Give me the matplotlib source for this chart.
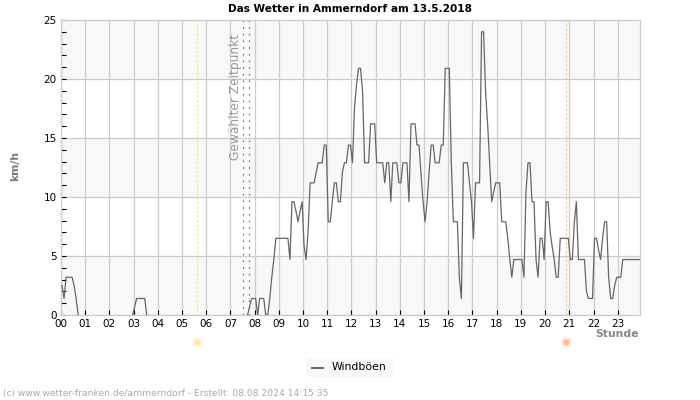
import matplotlib
matplotlib.use("Agg")
import matplotlib.pyplot as plt
from matplotlib.ticker import MultipleLocator
import numpy as np

# Windboeen in km/h, 12 values per hour (5 minute steps)
h00 = [2.5, 1.4, 3.2, 3.2, 3.2, 3.2, 2.5, 1.4, 0, 0, 0, 0]
h01 = [0, 0, 0, 0, 0, 0, 0, 0, 0, 0, 0, 0]
h02 = [0, 0, 0, 0, 0, 0, 0, 0, 0, 0, 0, 0]
h03 = [0.7, 1.4, 1.4, 1.4, 1.4, 1.4, 0, 0, 0, 0, 0, 0]
h04 = [0, 0, 0, 0, 0, 0, 0, 0, 0, 0, 0, 0]
h05 = [0, 0, 0, 0, 0, 0, 0, 0, 0, 0, 0, 0]
h06 = [0, 0, 0, 0, 0, 0, 0, 0, 0, 0, 0, 0]
h07 = [0, 0, 0, 0, 0, 0, 0, 0, 0, 0.7, 1.4, 1.4]
h08 = [1.4, 0, 1.4, 1.4, 1.4, 0, 0, 1.4, 3.2, 4.7, 6.5, 6.5]
h09 = [6.5, 6.5, 6.5, 6.5, 6.5, 4.7, 9.6, 9.6, 8.8, 7.9, 8.8, 9.6]
h10 = [5.9, 4.7, 7.1, 11.2, 11.2, 11.2, 12.1, 12.9, 12.9, 12.9, 14.4, 14.4]
h11 = [7.9, 7.9, 9.6, 11.2, 11.2, 9.6, 9.6, 12.1, 12.9, 12.9, 14.4, 14.4]
h12 = [12.9, 17.6, 19.5, 20.9, 20.9, 19.0, 12.9, 12.9, 12.9, 16.2, 16.2, 16.2]
h13 = [12.9, 12.9, 12.9, 12.9, 11.2, 12.9, 12.9, 9.6, 12.9, 12.9, 12.9, 11.2]
h14 = [11.2, 12.9, 12.9, 12.9, 9.6, 16.2, 16.2, 16.2, 14.4, 14.4, 11.9, 9.6]
h15 = [7.9, 9.6, 12.1, 14.4, 14.4, 12.9, 12.9, 12.9, 14.4, 14.4, 20.9, 20.9]
h16 = [20.9, 12.9, 7.9, 7.9, 7.9, 3.1, 1.4, 12.9, 12.9, 12.9, 11.2, 9.6]
h17 = [6.5, 11.2, 11.2, 11.2, 24.0, 24.0, 18.9, 16.2, 12.9, 9.6, 10.4, 11.2]
h18 = [11.2, 11.2, 7.9, 7.9, 7.9, 6.5, 4.7, 3.2, 4.7, 4.7, 4.7, 4.7]
h19 = [4.7, 3.2, 10.4, 12.9, 12.9, 9.6, 9.6, 4.7, 3.2, 6.5, 6.5, 4.7]
h20 = [9.6, 9.6, 7.0, 5.8, 4.7, 3.2, 3.2, 6.5, 6.5, 6.5, 6.5, 6.5]
h21 = [4.7, 4.7, 7.9, 9.6, 4.7, 4.7, 4.7, 4.7, 2.0, 1.4, 1.4, 1.4]
h22 = [6.5, 6.5, 5.5, 4.7, 6.5, 7.9, 7.9, 3.2, 1.4, 1.4, 2.5, 3.2]
h23 = [3.2, 3.2, 4.7, 4.7, 4.7, 4.7, 4.7, 4.7, 4.7, 4.7, 4.7, 4.7]
hours = [h00, h01, h02, h03, h04, h05, h06, h07, h08, h09, h10, h11,
         h12, h13, h14, h15, h16, h17, h18, h19, h20, h21, h22, h23]
hour_labels = ["%02d" % h for h in range(24)]

sunrise = 5.62
sunset = 20.88
selected = [7.5, 7.75]

gust = np.concatenate(hours).astype(float)
t = (np.arange(len(gust)) + 0.5) / 12

# the line is not visible along the zero line
calm = gust == 0
calm[1:-1] = calm[1:-1] & calm[:-2] & calm[2:]
gust_line = np.where(calm, np.nan, gust)

W, H = 700, 400
fig = plt.figure(figsize=(7, 4), dpi=100, facecolor="white")
ax = fig.add_axes([61 / W, 1 - 315 / H, 579 / W, 295 / H])

ax.set_xlim(0, 23.92)
ax.set_ylim(0, 25)

for y0 in [0, 10, 20]:
    ax.axhspan(y0, y0 + 5, color="#f8f8f8", lw=0, zorder=0)
ax.grid(True, which="major", color="#cccccc", lw=0.9, zorder=1)

ax.axvline(sunrise, color="#efe67e", lw=0.8, ls=(0, (2, 2)), zorder=2)
ax.axvline(sunset, color="#f3c078", lw=0.8, ls=(0, (2, 2)), zorder=2)
for s in selected:
    ax.axvline(s, color="#666666", lw=0.8, ls=(0, (1.5, 4.5)), zorder=2)

ax.plot(t, gust_line, color="#666666", lw=0.9, zorder=3, label="Windböen")

ax.set_xticks(range(24))
ax.set_xticklabels(hour_labels)
ax.yaxis.set_major_locator(MultipleLocator(5))
ax.yaxis.set_minor_locator(MultipleLocator(1))
ax.tick_params(axis="both", which="major", direction="in", length=3.5, width=0.8,
               labelsize=7.5, color="black", pad=3)
ax.tick_params(axis="y", which="minor", direction="in", length=3.5, width=0.8, color="black")
for sp in ax.spines.values():
    sp.set_color("#cccccc")
    sp.set_linewidth(0.9)

fig.text(350 / W, 1 - 8.5 / H, "Das Wetter in Ammerndorf am 13.5.2018", ha="center", va="center",
         fontsize=7.55, fontweight="bold", color="black")
fig.text(15 / W, 1 - 166 / H, "km/h", rotation=90, ha="center", va="center",
         fontsize=7.8, fontweight="bold", color="#777777")
fig.text(639 / W, 1 - 334 / H, "Stunde", ha="right", va="center",
         fontsize=7.8, fontweight="bold", color="#888888")
fig.text(236 / W, 1 - 97 / H, "Gewählter Zeitpunkt", rotation=90, ha="center", va="center",
         fontsize=8.8, color="#999999")
fig.text(3 / W, 1 - 393.5 / H, "(c) www.wetter-franken.de/ammerndorf - Erstellt: 08.08.2024 14:15:35",
         ha="left", va="center", fontsize=6.55, color="#aaaaaa")

# sun symbols below the axis
sun_ax = fig.add_axes([0, 0, 1, 1], facecolor="none")
sun_ax.set_xlim(0, W)
sun_ax.set_ylim(H, 0)
sun_ax.axis("off")
for h, col in [(sunrise, "#fde9a0"), (sunset, "#fdb9a0")]:
    px = 61 + h * 579 / 23.92
    sun_ax.scatter([px], [341.5], s=64, marker=(12, 2, 0), color=col, alpha=0.5, lw=0.5)
    sun_ax.scatter([px], [341.5], s=20, marker="o", color=col, lw=0)

# legend
sun_ax.add_patch(plt.Rectangle((307, 358), 86, 19, color="#f8f8f8", lw=0))
sun_ax.plot([312, 323], [367.5, 367.5], color="#666666", lw=1.4)
sun_ax.text(332, 366.5, "Windböen", fontsize=7.8, va="center", ha="left", color="black")

fig.savefig("out.png", dpi=100)
